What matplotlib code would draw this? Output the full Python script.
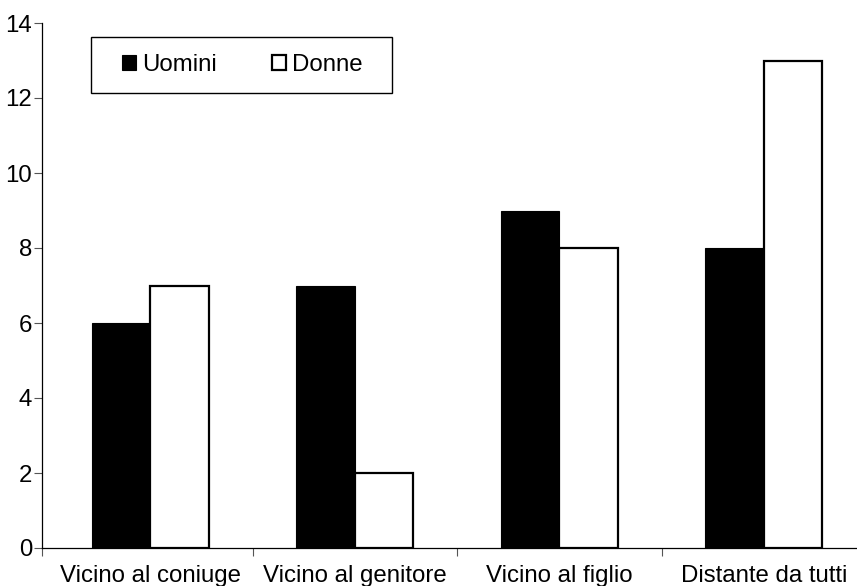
import matplotlib
matplotlib.use("Agg")
import matplotlib.pyplot as plt
from matplotlib.patches import Rectangle
import numpy as np

categories = ["Vicino al coniuge", "Vicino al genitore", "Vicino al figlio", "Distante da tutti"]
uomini = [6, 7, 9, 8]
donne = [7, 2, 8, 13]
series_labels = ["Uomini", "Donne"]
y_ticks = [0, 2, 4, 6, 8, 10, 12, 14]

plt.rcParams["font.family"] = ["Liberation Sans", "DejaVu Sans"]
FS = 17.3

W, H = 857, 586
fig = plt.figure(figsize=(W / 100, H / 100), dpi=100)
ax = fig.add_axes([42 / W, 1 - 548 / H, (866 - 42) / W, (548 - 23) / H])

x = np.arange(len(categories))
bw = 0.286
b1 = ax.bar(x - bw / 2, uomini, bw, color="black", edgecolor="black", linewidth=0.8,
            label=series_labels[0])
b2 = ax.bar(x + bw / 2, donne, bw, color="white", edgecolor="black", linewidth=1.6,
            label=series_labels[1])

xlo = -0.53
ax.set_xlim(xlo, 3.5)
ax.set_ylim(0, 14)
ax.set_yticks(y_ticks)
ax.tick_params(axis="y", labelsize=FS, length=6, width=0.8, color="#555555", pad=1)

# category boundaries carry tick marks, centres carry the labels
ax.set_xticks([xlo, 0.5, 1.5, 2.5, 3.5])
ax.set_xticklabels([])
ax.set_xticks(x, minor=True)
ax.set_xticklabels(categories, minor=True)
ax.tick_params(axis="x", which="major", length=6, width=0.8, color="#555555")
ax.tick_params(axis="x", which="minor", length=0, labelsize=FS, pad=12)

for s in ("top", "right"):
    ax.spines[s].set_visible(False)
for s in ("left", "bottom"):
    ax.spines[s].set_linewidth(0.9)
    ax.spines[s].set_clip_on(False)

# legend box
x0, y0, x1, y1 = 91, 37, 392, 93
fig.patches.append(Rectangle((x0 / W, 1 - y1 / H), (x1 - x0) / W, (y1 - y0) / H,
                             transform=fig.transFigure, facecolor="white",
                             edgecolor="black", linewidth=1.0, zorder=5))
leg = fig.legend(handles=[b1, b2], loc="center",
                 bbox_to_anchor=((x0 + x1) / 2 / W + 0.001, 1 - (y0 + y1) / 2 / H),
                 ncol=2, frameon=False, fontsize=FS, handlelength=0.6, handleheight=0.6,
                 handletextpad=0.25, columnspacing=2.3, borderpad=0)
leg.set_zorder(6)

fig.savefig("out.png", dpi=100)
